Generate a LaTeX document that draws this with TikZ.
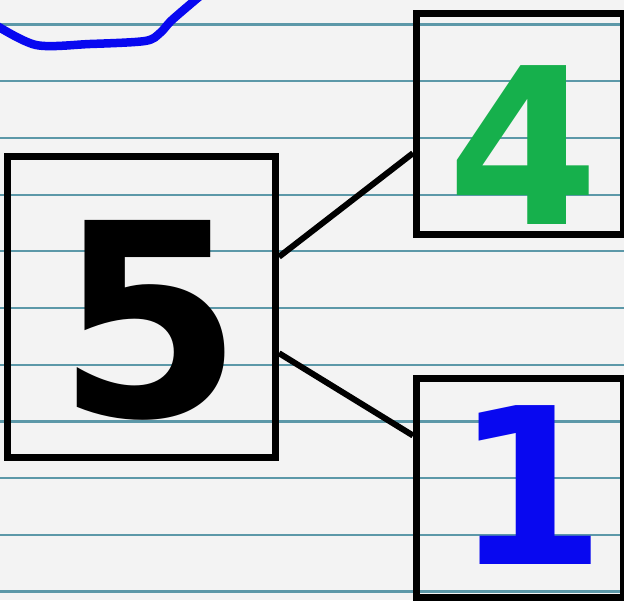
\documentclass[tikz,border=0pt]{standalone}
\usepackage{fontspec}
\newfontfamily\digitfont{DejaVu Sans}
\usetikzlibrary{calc}
\definecolor{paper}{RGB}{243,243,243}
\definecolor{rulecol}{RGB}{92,152,168}
\definecolor{inkgreen}{RGB}{22,176,76}
\definecolor{inkblue}{RGB}{8,8,240}
\begin{document}
\begin{tikzpicture}[x=1pt,y=-1pt,
  box/.style={draw=black,line width=7pt,rectangle,inner sep=0pt},
  link/.style={draw=black,line width=6pt},
  digit/.style={inner sep=0pt},
  bigdigit/.style={digit,font=\digitfont\bfseries\fontsize{269}{269}\selectfont},
  meddigit/.style={digit,font=\digitfont\bfseries\fontsize{218}{218}\selectfont},
  ruling/.style={rulecol,line width=2.2pt}]
\useasboundingbox (0,0) rectangle (624,600);
\fill[paper] (0,0) rectangle (624,600);
\foreach \k in {0,...,10} \draw[ruling] (0,{24.5+56.7*\k}) -- (624,{24.5+56.7*\k});
\draw[inkblue,line width=8.5pt,line cap=round,line join=round]
  plot[smooth,tension=0.5] coordinates {(-6,24) (36,45) (90,44) (145,41) (160,33) (172,20) (200,-4)};
\node[box,minimum width=268pt,minimum height=301pt] (b5) at (141.5,307) {};
\node[box,minimum width=207pt,minimum height=221pt] (b4) at (520,123.5) {};
\node[box,minimum width=207pt,minimum height=219pt] (b1) at (520,487.5) {};
\node[bigdigit,text=black] (d5) at (150,320) {5};
\node[meddigit,text=inkgreen] (d4) at (523,145) {4};
\node[meddigit,text=inkblue] (d1) at (530,485) {1};
\draw[link] ($(b5.north east)!0.337!(b5.south east)$) -- ($(b4.north west)!0.63!(b4.south west)$);
\draw[link] ($(b5.north east)!0.65!(b5.south east)$) -- ($(b1.north west)!0.27!(b1.south west)$);
\end{tikzpicture}
\end{document}
